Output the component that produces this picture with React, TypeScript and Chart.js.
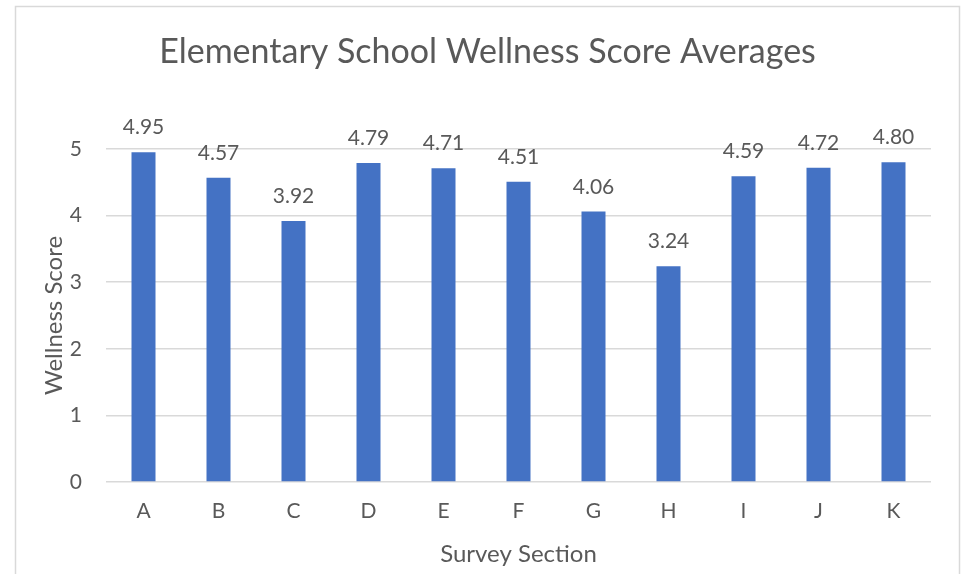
import React, { useEffect, useRef } from "react";
import { Chart, registerables } from "chart.js";

Chart.register(...registerables);

const categories = ["A", "B", "C", "D", "E", "F", "G", "H", "I", "J", "K"];
const scores = [4.95, 4.57, 3.92, 4.79, 4.71, 4.51, 4.06, 3.24, 4.59, 4.72, 4.8];
const yTicks = [0, 1, 2, 3, 4, 5];
const chartTitle = "Elementary School Wellness Score Averages";
const xTitle = "Survey Section";
const yTitle = "Wellness Score";

const FONT = "Lato";
const TEXT = "#595959";

const decorPlugin = {
  id: "decor",
  beforeDraw(chart: any) {
    const ctx = chart.ctx;
    ctx.save();
    ctx.fillStyle = "#ffffff";
    ctx.fillRect(0, 0, chart.width, chart.height);
    ctx.strokeStyle = "#d9d9d9";
    ctx.lineWidth = 1.5;
    ctx.strokeRect(15.5, 6.5, 944, 620);
    ctx.restore();
  },
  afterDraw(chart: any) {
    const ctx = chart.ctx;
    const area = chart.chartArea;
    ctx.save();
    ctx.fillStyle = TEXT;
    // title
    ctx.font = `34px ${FONT}`;
    ctx.textAlign = "center";
    ctx.textBaseline = "alphabetic";
    ctx.fillText(chartTitle, 487.5, 63);
    // x title
    ctx.font = `24px ${FONT}`;
    ctx.fillText(xTitle, (area.left + area.right) / 2, 562);
    // y title
    ctx.save();
    ctx.translate(62, (area.top + area.bottom) / 2);
    ctx.rotate(-Math.PI / 2);
    ctx.fillText(yTitle, 0, 0);
    ctx.restore();
    // data labels
    ctx.font = `21px ${FONT}`;
    const meta = chart.getDatasetMeta(0);
    meta.data.forEach((bar: any, i: number) => {
      ctx.fillText(scores[i].toFixed(2), bar.x, bar.y - 18);
    });
    ctx.restore();
  },
};

export default function App() {
  const ref = useRef<HTMLCanvasElement | null>(null);
  useEffect(() => {
    if (!ref.current) return;
    const chart = new Chart(ref.current, {
      type: "bar",
      data: {
        labels: categories,
        datasets: [
          {
            data: scores,
            backgroundColor: "#4472C4",
            categoryPercentage: 1,
            barPercentage: 0.32,
          },
        ],
      },
      options: {
        animation: false,
        responsive: false,
        devicePixelRatio: 1,
        layout: { padding: { top: 149, left: 0, right: 32, bottom: 0 } },
        plugins: {
          legend: { display: false },
          title: { display: false },
          tooltip: { enabled: false },
        },
        scales: {
          x: {
            grid: { display: false, drawTicks: false },
            border: { display: false },
            ticks: { color: TEXT, font: { family: FONT, size: 21 }, padding: 17 },
            afterFit: (s: any) => {
              s.height = 92;
            },
          },
          y: {
            min: 0,
            max: 5,
            afterBuildTicks: (s: any) => {
              s.ticks = yTicks.map((v) => ({ value: v }));
            },
            grid: { color: "#d9d9d9", lineWidth: 1.5, drawTicks: false },
            border: { display: false },
            ticks: { color: TEXT, font: { family: FONT, size: 21 }, padding: 24 },
            afterFit: (s: any) => {
              s.width = 106;
            },
          },
        },
      },
      plugins: [decorPlugin],
    });
    return () => chart.destroy();
  }, []);
  return (
    <div style={{ position: "fixed", left: 0, top: 0, width: 963, height: 574 }}>
      <canvas ref={ref} width={963} height={574} />
    </div>
  );
}
